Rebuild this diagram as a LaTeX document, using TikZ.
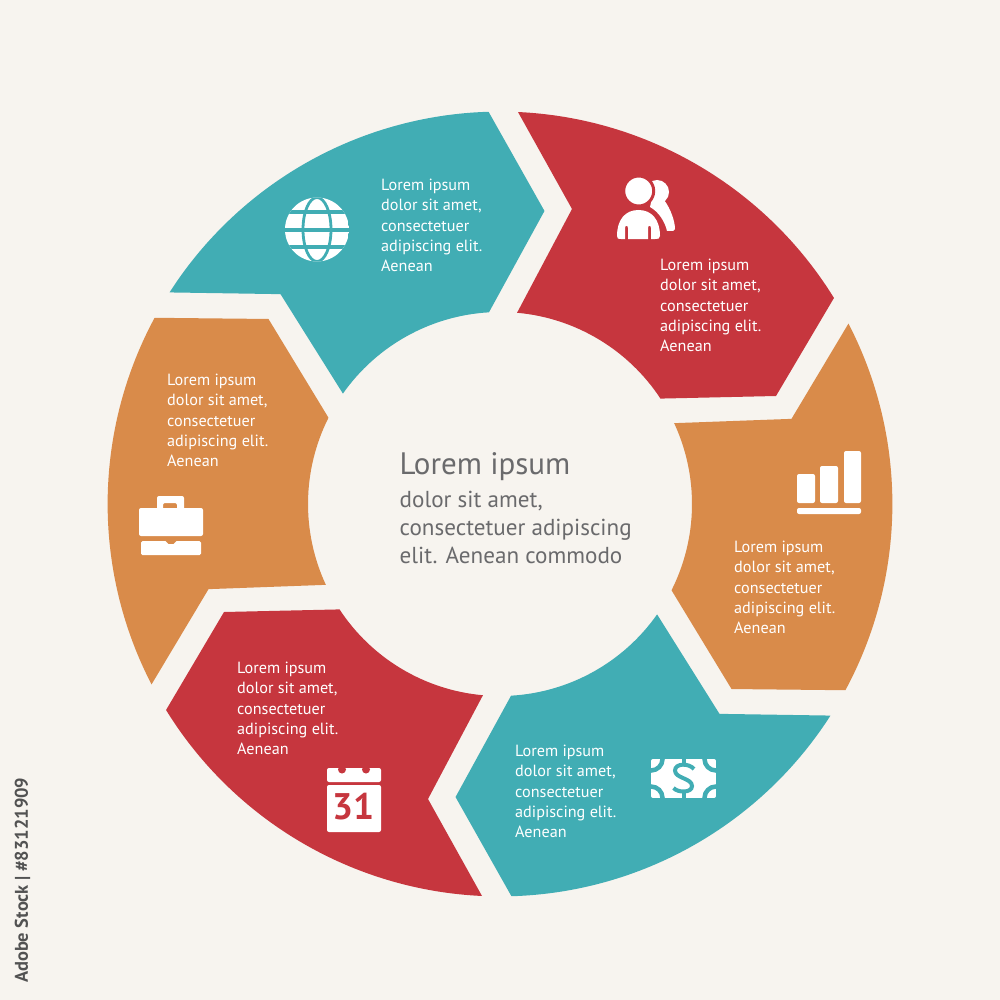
\documentclass[tikz,border=0pt]{standalone}
\usepackage{fontspec}
\setmainfont{PT Sans}
\definecolor{bgc}{HTML}{F7F4EF}
\definecolor{tealc}{HTML}{41ADB4}
\definecolor{redc}{HTML}{C6363E}
\definecolor{orangec}{HTML}{D98B4A}
\definecolor{grayc}{HTML}{6A6A6C}
\newcommand{\segm}[2]{%
  \begin{scope}[shift={(500,504)},x=1pt,y=1pt,rotate=#1]
    \fill[#2] (87.37:392.4pt) arc[start angle=87.37,end angle=31.67,radius=392.4pt]
      -- (276,108) -- (33.3:192pt) arc[start angle=33.3,end angle=84.9,radius=192pt]
      -- (72,295) -- cycle;
  \end{scope}}
\tikzset{
  blurb/.style={text=white,anchor=north west,inner sep=0pt,align=left,font=\fontsize{16.2}{20.3}\selectfont},
  ico/.style={fill=white,rounded corners=2pt},
}
\begin{document}
\begin{tikzpicture}[x=1pt,y=-1pt]
\fill[bgc] (0,0) rectangle (1000,1000);
\useasboundingbox (0,0) rectangle (1000,1000);
\segm{60}{tealc}
\segm{0}{redc}
\segm{-60}{orangec}
\segm{-120}{tealc}
\segm{-180}{redc}
\segm{-240}{orangec}
% texts
\node[blurb] (t1) at (381,179) {Lorem ipsum\\dolor sit amet,\\consectetuer\\adipiscing elit.\\Aenean};
\node[blurb] (t2) at (660,259) {Lorem ipsum\\dolor sit amet,\\consectetuer\\adipiscing elit.\\Aenean};
\node[blurb] (t3) at (734,541) {Lorem ipsum\\dolor sit amet,\\consectetuer\\adipiscing elit.\\Aenean};
\node[blurb] (t4) at (515,745) {Lorem ipsum\\dolor sit amet,\\consectetuer\\adipiscing elit.\\Aenean};
\node[blurb] (t5) at (237,662) {Lorem ipsum\\dolor sit amet,\\consectetuer\\adipiscing elit.\\Aenean};
\node[blurb] (t6) at (167,374) {Lorem ipsum\\dolor sit amet,\\consectetuer\\adipiscing elit.\\Aenean};
\node[text=grayc,anchor=west,inner sep=0pt,font=\fontsize{31}{34}\selectfont] (ct) at (399.5,467) {Lorem ipsum};
\node[text=grayc,anchor=north west,inner sep=0pt,align=left,font=\fontsize{23.1}{28}\selectfont] (cb) at (399.5,491) {dolor sit amet,\\consectetuer adipiscing\\elit. Aenean commodo};
\node[text=black!68,rotate=90,anchor=west,inner sep=0pt,font=\fontsize{18.4}{20}\selectfont\bfseries] (sid) at (22.5,983) {Adobe Stock | \#83121909};
% globe
\begin{scope}
  \clip (317,229.5) circle[radius=32];
  \fill[white] (285,197) rectangle (349,262);
  \draw[tealc,line width=2.8pt] (317,229.5) ellipse[x radius=14,y radius=32];
  \foreach \yy in {212.5,230,247}
    \draw[tealc,line width=4pt] (285,\yy) -- (349,\yy);
\end{scope}
% people
\fill[white] (657,192) circle[radius=12];
\fill[white] (652,198) -- (664,200) .. controls (671,209) and (675,222) .. (675,229)
  .. controls (675,231) and (673,231) .. (667,231) .. controls (665,222) and (659,212) .. (650,207) -- cycle;
\draw[redc,line width=3pt,fill=white] (638.7,191) circle[radius=15];
\fill[white] (617,236) .. controls (617,220) and (625,210) .. (638.5,210) .. controls (652,210) and (660,220) .. (660,236)
  .. controls (660,239) and (658,239) .. (655,239) -- (651,239) -- (651,228) .. controls (651,225) and (648,225) .. (648,228)
  -- (648,239) -- (628,239) -- (628,228) .. controls (628,225) and (625,225) .. (625,228) -- (625,239) -- (621,239) .. controls (618,239) and (617,239) .. (617,236) -- cycle;
% bars
\fill[ico] (797,474) rectangle (815,503);
\fill[ico] (820,466) rectangle (838,503);
\fill[ico] (844,451) rectangle (861,503);
\fill[ico] (797,508) rectangle (861,514);
% money
\begin{scope}
  \clip[rounded corners=2pt] (651,759) rectangle (716,798);
  \fill[white] (651,759) rectangle (716,798);
  \foreach \p in {(651,759),(716,759),(651,798),(716,798)}
    \draw[tealc,line width=4.5pt] \p circle[radius=11.5];
  \draw[tealc,line width=4pt] (694,769) .. controls (689,763) and (675,763) .. (675,770.5)
    .. controls (675,778.5) and (692,778) .. (692,786) .. controls (692,793) and (678,793) .. (673.5,788);
  \draw[tealc,line width=4pt] (683.5,759) -- (683.5,766);
  \draw[tealc,line width=4pt] (683.5,791) -- (683.5,798);
\end{scope}
% briefcase
\fill[ico] (139,508) rectangle (203,536);
\fill[white,rounded corners=2pt,even odd rule] (157,510) -- (157,496) -- (184,496) -- (184,510) -- cycle (163,503) rectangle (177,510);
\fill[white,rounded corners=1.5pt] (141,541) -- (167,541) -- (167,544) -- (175,544) -- (175,541) -- (201,541) -- (201,555) -- (141,555) -- cycle;
% calendar
\fill[ico] (327,768) rectangle (381,782);
\fill[redc] (342,769.5) circle[radius=4];
\fill[redc] (366,769.5) circle[radius=4];
\fill[ico] (327,785) rectangle (381,832);
\node[text=redc,inner sep=0pt,font=\fontsize{37}{37}\selectfont\bfseries] (cal) at (353,807) {31};
\end{tikzpicture}
\end{document}
